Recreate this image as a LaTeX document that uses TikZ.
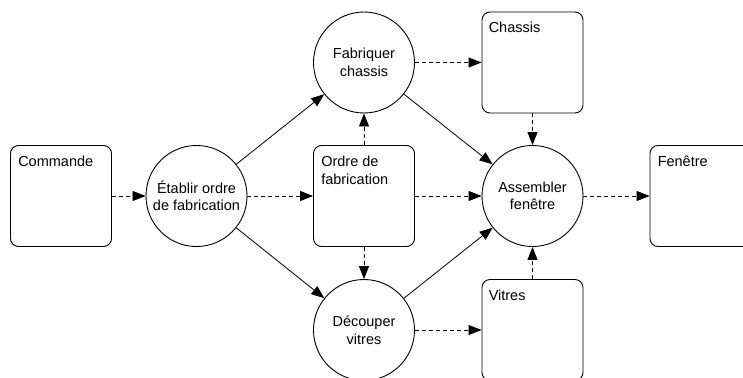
\documentclass[tikz,border=0pt]{standalone}
\usepackage{fontspec}
\setmainfont{Liberation Sans}
\usetikzlibrary{arrows.meta}
\begin{document}
\begin{tikzpicture}[x=1pt,y=-1pt,
  font=\fontsize{14.5}{17.5}\selectfont,
  proc/.style={circle,draw,line width=0.9pt,minimum size=101pt,inner sep=0pt,align=center},
  store/.style={rectangle,rounded corners=8pt,draw,line width=0.9pt,minimum width=101pt,minimum height=101pt,inner sep=0pt},
  storetext/.style={anchor=north west,inner sep=0pt,align=left},
  flow/.style={dash pattern=on 4pt off 3pt,line width=0.8pt,-{Triangle[length=13pt,width=10pt]}},
  ctrl/.style={line width=0.8pt,-{Triangle[length=13pt,width=10pt]}}]
\useasboundingbox (0,0) rectangle (743,377);

% data stores
\node[store] (comm)    at (61,196)    {};
\node[store] (ordre)   at (364,196)   {};
\node[store] (chassis) at (532.5,62.5) {};
\node[store] (vitres)  at (532.5,330) {};
\node[store] (fen)     at (700.5,196) {};

\node[storetext] (commT)    at ([xshift=8pt,yshift=-11pt]comm.north west)    {Commande};
\node[storetext] (ordreT)   at ([xshift=8pt,yshift=-11pt]ordre.north west)   {Ordre de\\fabrication};
\node[storetext] (chassisT) at ([xshift=7pt,yshift=-10pt]chassis.north west) {Chassis};
\node[storetext] (vitresT)  at ([xshift=7pt,yshift=-11pt]vitres.north west)  {Vitres};
\node[storetext] (fenT)     at ([xshift=8pt,yshift=-11pt]fen.north west)     {Fenêtre};

% processes
\node[proc] (etab)  at (196.5,196) {Établir ordre\\de fabrication};
\node[proc] (fab)   at (364,62.5)  {Fabriquer\\chassis};
\node[proc] (dec)   at (364,330)   {Découper\\vitres};
\node[proc] (assem) at (532.5,196) {Assembler\\fenêtre};

% data flows
\draw[flow] (comm) -- (etab);
\draw[flow] (etab) -- (ordre);
\draw[flow] (ordre) -- (fab);
\draw[flow] (ordre) -- (dec);
\draw[flow] (ordre) -- (assem);
\draw[flow] (fab) -- (chassis);
\draw[flow] (dec) -- (vitres);
\draw[flow] (chassis) -- (assem);
\draw[flow] (vitres) -- (assem);
\draw[flow] (assem) -- (fen);

% control flows
\draw[ctrl] (etab) -- (fab);
\draw[ctrl] (etab) -- (dec);
\draw[ctrl] (fab) -- (assem);
\draw[ctrl] (dec) -- (assem);
\end{tikzpicture}
\end{document}
